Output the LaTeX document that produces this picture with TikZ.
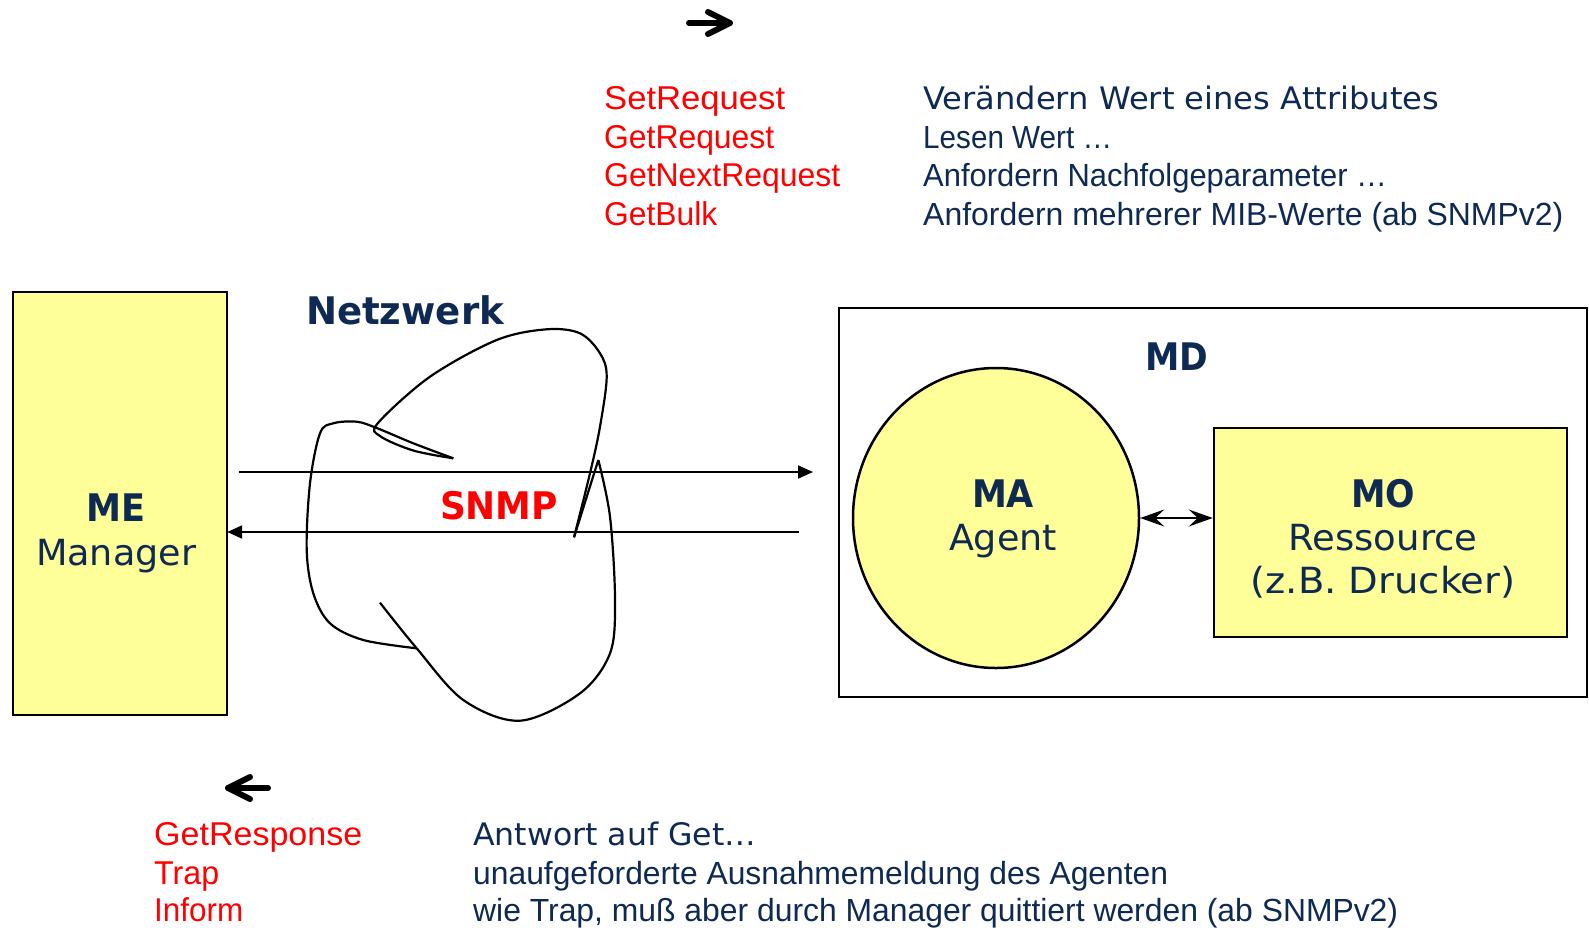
\documentclass[tikz,border=0pt]{standalone}
\usepackage{fontspec}
\usepackage{graphicx}
\setmainfont{Liberation Sans}
\newfontfamily\vfont{DejaVu Sans}
\usetikzlibrary{arrows.meta,shapes.geometric}
\definecolor{navy}{HTML}{0F2A52}
\definecolor{ylw}{HTML}{FFFF99}
\definecolor{rd}{HTML}{FF0000}
\newlength\fitlen
\newcommand\fitx[2]{\settowidth\fitlen{#2}\pgfmathsetmacro\fitfac{#1/\fitlen}\scalebox{\fitfac}[1]{#2}}
\tikzset{
  lbl/.style={inner sep=0pt, anchor=base west},
  redl/.style={lbl, text=rd, font=\fontsize{33}{38}\selectfont},
  desc/.style={lbl, text=navy, font=\fontsize{32}{38}\selectfont},
  vdesc/.style={lbl, text=navy, font=\vfont\fontsize{31}{38}\selectfont},
  vb/.style={inner sep=0pt, anchor=base, text=navy, font=\vfont\bfseries\fontsize{38}{44}\selectfont},
  vr/.style={inner sep=0pt, anchor=base, text=navy, font=\vfont\fontsize{36}{42}\selectfont},
  ybox/.style={draw, line width=2.5pt, fill=ylw},
  conn/.style={line width=2pt, -{Triangle[length=15pt,width=13pt]}},
  glyph/.style={line width=6pt, line cap=round, line join=round},
  cloud/.style={line width=2.2pt, line join=round},
}
\begin{document}
\begin{tikzpicture}[x=1pt,y=-1pt]
\useasboundingbox (0,0) rectangle (1589,927);

% glyph arrows
\coordinate (ta1) at (689,23); \coordinate (ta2) at (730,23);
\draw[glyph] (ta1) -- (ta2);
\draw[glyph] (708,12) -- (ta2) -- (708,34);
\coordinate (ba1) at (268,788); \coordinate (ba2) at (228,788);
\draw[glyph] (ba1) -- (ba2);
\draw[glyph] (250,777) -- (ba2) -- (250,799);

% top list
\node[redl] (r1) at (604,109.5) {\fitx{181}{SetRequest}};
\node[redl] (r2) at (604,148) {\fitx{170}{GetRequest}};
\node[redl] (r3) at (604,186.5) {\fitx{236}{GetNextRequest}};
\node[redl] (r4) at (604,225) {\fitx{113}{GetBulk}};
\node[vdesc] (d1) at (923,109.5) {\fitx{516}{Verändern Wert eines Attributes}};
\node[desc] (d2) at (923,148) {\fitx{189}{Lesen Wert …}};
\node[desc] (d3) at (923,186.5) {\fitx{464}{Anfordern Nachfolgeparameter …}};
\node[desc] (d4) at (923,225) {\fitx{640}{Anfordern mehrerer MIB-Werte (ab SNMPv2)}};

% bottom list
\node[redl] (b1) at (154,845) {\fitx{208}{GetResponse}};
\node[redl] (b2) at (154,884) {\fitx{65}{Trap}};
\node[redl] (b3) at (154,921) {\fitx{89}{Inform}};
\node[vdesc] (e1) at (473,845) {\fitx{283}{Antwort auf Get…}};
\node[desc] (e2) at (473,884) {\fitx{695}{unaufgeforderte Ausnahmemeldung des Agenten}};
\node[desc] (e3) at (473,921) {\fitx{925}{wie Trap, muß aber durch Manager quittiert werden (ab SNMPv2)}};

% Manager box
\draw[ybox] (13,292) rectangle (227,715);
\node[inner sep=0pt, minimum width=214pt, minimum height=423pt] (me) at (120,503.5) {};
\node[vb] (metxt) at (116,521) {\fitx{59}{ME}};
\node[vr] (mgr) at (116,565) {\fitx{160}{Manager}};

% MD box
\node[draw, line width=2.5pt, inner sep=0pt, minimum width=748pt, minimum height=389pt] (md) at (1213,502.5) {};
\node[vb] (mdtxt) at (1177,370) {\fitx{63}{MD}};

% MA ellipse
\node[ellipse, draw, line width=2.5pt, fill=ylw, inner sep=0pt, minimum width=286pt, minimum height=300pt] (ma) at (996,518) {};
\node[vb] (matxt) at (1003,507) {\fitx{62}{MA}};
\node[vr] (agt) at (1003,550) {\fitx{108}{Agent}};

% MO box
\node[draw, line width=2.5pt, fill=ylw, inner sep=0pt, minimum width=353pt, minimum height=209pt] (mo) at (1390.5,532.5) {};
\node[vb] (motxt) at (1383,507) {\fitx{64}{MO}};
\node[vr] (res) at (1383,550) {\fitx{189}{Ressource}};
\node[vr] (drk) at (1383,593.5) {\fitx{265}{(z.B. Drucker)}};

\draw[line width=2pt, {Stealth[length=24pt,width=17pt,inset=9pt]}-{Stealth[length=24pt,width=17pt,inset=9pt]}] (ma.east) -- (ma.east -| mo.west);

% cloud
\draw[cloud] plot[smooth, tension=0.55] coordinates {(380,602.7) (416.7,648.3) (463.3,700) (520,720.7) (580,693.3) (610,653.3) (615,600) (610,516.7) (598.3,460)};
\draw[cloud] (598.3,460) -- (574,537.3);
\draw[cloud] plot[smooth, tension=0.55] coordinates {(574,537.3) (590,473.3) (600,426.7) (606.7,376.7) (600,353.3) (580,333.3) (546.7,329.3) (496.7,340) (430,376.7) (378,423) (380,436) (413.3,450.5) (453.3,458.3)};
\draw[cloud] plot[smooth, tension=0.55] coordinates {(453.3,458.3) (413.3,443.3) (376.7,428) (356.7,421.7) (333.3,423.3) (320,433.3) (310,483.3) (306.7,550) (313.3,593.3) (330,623.3) (363.3,640) (416.7,648.3)};

\node[vb] (net) at (405,324) {\fitx{198}{Netzwerk}};
\node[vb, text=rd] (snmp) at (499,519) {\fitx{118}{SNMP}};

% connectors
\coordinate (a1) at (239,472); \coordinate (a2) at (813,472);
\draw[conn] (a1) -- (a2);
\coordinate (c1) at (799,532);
\draw[conn] (c1) -- (c1 -| me.east);
\end{tikzpicture}
\end{document}
